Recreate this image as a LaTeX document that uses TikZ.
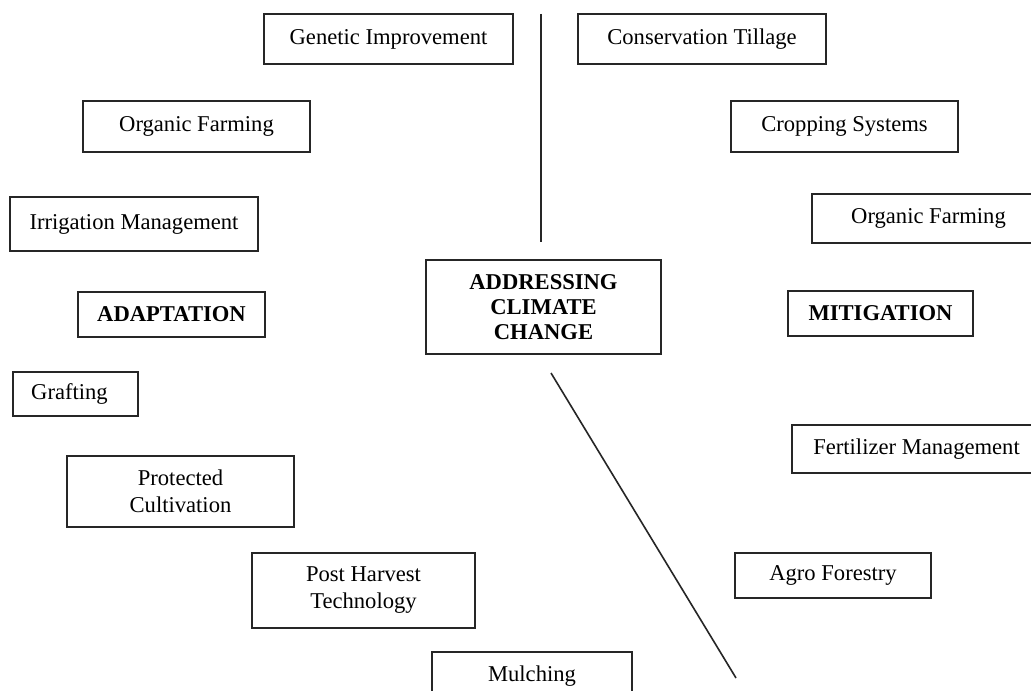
\documentclass[tikz,border=0pt]{standalone}
\usepackage{fontspec}
\setmainfont{Liberation Serif}
\tikzset{
    box/.style={draw=black!85, line width=0.9pt, inner sep=0pt, align=center,
        font=\fontsize{11.3}{13.5}\selectfont},
    headbox/.style={box, font=\fontsize{11.3}{12.5}\selectfont\bfseries}
}

\begin{document}
\begin{tikzpicture}[x=0.5pt, y=-0.5pt]

% Rahmen
\clip (0,0) rectangle (1031,690);
\fill[white] (0,0) rectangle (1031,690);

% Mitte
\node[headbox, minimum width=117.5pt, minimum height=47pt] (center) at (543.5,307) {ADDRESSING\\CLIMATE\\CHANGE};

% Adaptation (links)
\node[box, minimum width=124.5pt, minimum height=25pt] (genetic) at (388.5,39) {Genetic Improvement};
\node[box, minimum width=113.5pt, minimum height=25.5pt] (organicL) at (196.5,126.5) {Organic Farming};
\node[box, minimum width=124pt, minimum height=27pt] (irrigation) at (134,224) {Irrigation Management};
\node[headbox, minimum width=93.5pt, minimum height=22.5pt] (adaptation) at (171.5,314.5) {ADAPTATION};
\node[box, minimum width=62.5pt, minimum height=22pt] (grafting) at (75.5,394) {Grafting\hspace*{6pt}};
\node[box, minimum width=113.5pt, minimum height=35.5pt] (protected) at (180.5,491.5) {Protected\\Cultivation};
\node[box, minimum width=111.5pt, minimum height=37.5pt] (postharvest) at (363.5,590.5) {Post Harvest\\Technology};
\node[box, minimum width=100pt, minimum height=24pt] (mulching) at (532,676) {Mulching};

% Mitigation (rechts)
\node[box, minimum width=124pt, minimum height=25pt] (tillage) at (702,39) {Conservation Tillage};
\node[box, minimum width=113.5pt, minimum height=25.5pt] (cropping) at (844.5,126.5) {Cropping Systems};
\node[box, minimum width=116.5pt, minimum height=24.5pt] (organicR) at (928.5,218.5) {Organic Farming};
\node[headbox, minimum width=92.5pt, minimum height=22.5pt] (mitigation) at (880.5,313.5) {MITIGATION};
\node[box, minimum width=124.5pt, minimum height=24pt] (fertilizer) at (916.5,449) {Fertilizer Management};
\node[box, minimum width=98pt, minimum height=22.5pt] (agro) at (833,575.5) {Agro Forestry};

% Trennlinien
\coordinate (V1) at (541,14);
\coordinate (V2) at (541,242);
\coordinate (D1) at (551,373);
\coordinate (D2) at (736,678);
\draw[line width=0.8pt, black!85] (V1) -- (V2);
\draw[line width=0.8pt, black!85] (D1) -- (D2);

\end{tikzpicture}
\end{document}
